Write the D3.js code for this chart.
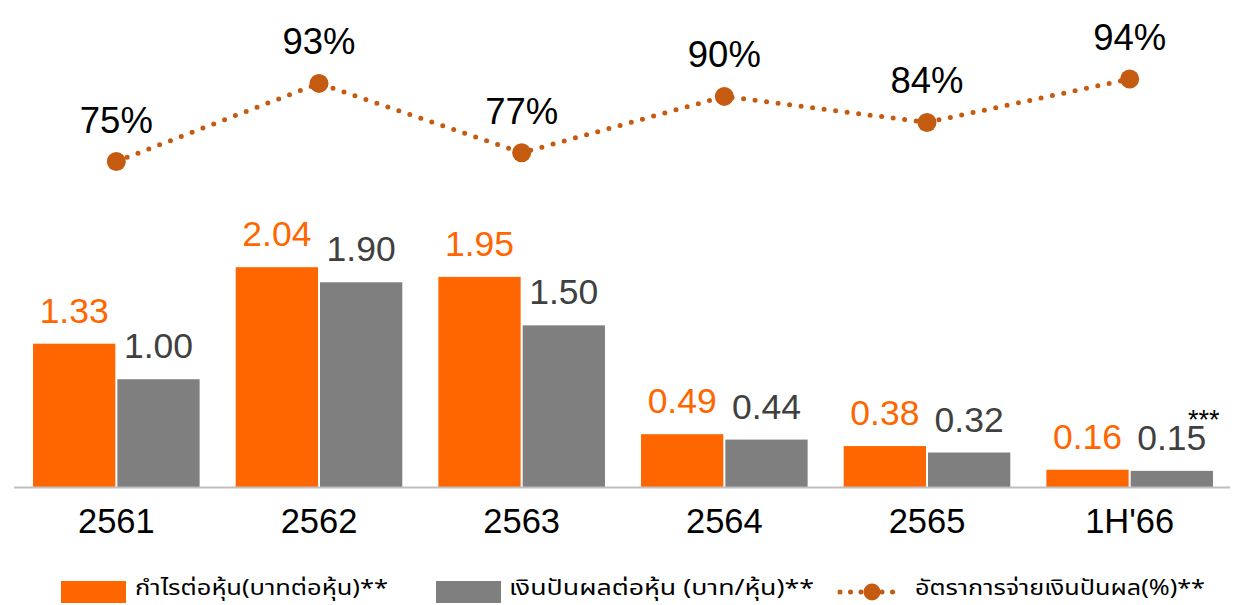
<!DOCTYPE html>
<html>
<head>
<meta charset="utf-8">
<script src="https://cdn.jsdelivr.net/npm/d3@7"></script>
<style>
  html, body { margin: 0; padding: 0; background: #fff; }
  svg { display: block; }
  text { font-family: Arial, "Liberation Sans", sans-serif; }
  .thai { font-family: "Noto Sans Thai", "Noto Sans Thai UI", "Leelawadee UI", Tahoma, "Noto Sans", sans-serif; }
</style>
</head>
<body>
<svg id="chart" width="1245" height="605"></svg>
<script>
const categories = ["2561", "2562", "2563", "2564", "2565", "1H'66"];
const epsValues = [1.33, 2.04, 1.95, 0.49, 0.38, 0.16];
const dpsValues = [1.00, 1.90, 1.50, 0.44, 0.32, 0.15];
const payoutValues = [75, 93, 77, 90, 84, 94];
const epsLabels = ["1.33", "2.04", "1.95", "0.49", "0.38", "0.16"];
const dpsLabels = ["1.00", "1.90", "1.50", "0.44", "0.32", "0.15"];
const seriesNames = ["กำไรต่อหุ้น(บาทต่อหุ้น)**", "เงินปันผลต่อหุ้น (บาท/หุ้น)**", "อัตราการจ่ายเงินปันผล(%)**"];

const orange = "#FF6600", gray = "#7F7F7F", lineColor = "#C55A11";

const svg = d3.select("#chart");

const x = d3.scaleBand().domain(categories).range([15, 1231]).paddingInner(0.178).paddingOuter(0.089);
const xSub = d3.scaleBand().domain(["eps", "dps"]).range([0, x.bandwidth()]).paddingInner(0.024);
const y = d3.scaleLinear().domain([0, 4]).range([487, 56]);
const yP = d3.scaleLinear().domain([0, 100]).range([487, 53]);

// bars
const groups = svg.append("g").selectAll("g").data(categories).join("g")
  .attr("transform", d => `translate(${x(d)},0)`);

groups.append("rect")
  .attr("x", xSub("eps")).attr("width", xSub.bandwidth())
  .attr("y", (d, i) => y(epsValues[i])).attr("height", (d, i) => y(0) - y(epsValues[i]))
  .attr("fill", orange);
groups.append("rect")
  .attr("x", xSub("dps")).attr("width", xSub.bandwidth())
  .attr("y", (d, i) => y(dpsValues[i])).attr("height", (d, i) => y(0) - y(dpsValues[i]))
  .attr("fill", gray);

groups.append("text")
  .attr("x", xSub("eps") + xSub.bandwidth() / 2)
  .attr("y", (d, i) => y(epsValues[i]) - 21)
  .attr("text-anchor", "middle").attr("font-size", 35.5).attr("fill", orange)
  .text((d, i) => epsLabels[i]);
groups.append("text")
  .attr("x", xSub("dps") + xSub.bandwidth() / 2)
  .attr("y", (d, i) => y(dpsValues[i]) - 21)
  .attr("text-anchor", "middle").attr("font-size", 35.5).attr("fill", "#404040")
  .text((d, i) => dpsLabels[i]);

// superscript *** on last category
svg.append("text")
  .attr("x", 1188)
  .attr("y", 429).attr("font-size", 27).attr("fill", "#000")
  .text("***");

// axis
const xAxis = d3.axisBottom(x).tickSize(0).tickPadding(0);
const ax = svg.append("g").attr("transform", `translate(0,${y(0)})`).call(xAxis);
ax.select(".domain").attr("stroke", "#BFBFBF").attr("stroke-width", 2).attr("d", "M14,0.5H1230");
ax.selectAll(".tick text").attr("font-size", 34.5).attr("fill", "#000")
  .attr("font-family", "Arial, 'Liberation Sans', sans-serif")
  .attr("dy", null).attr("y", 46);

// line
const cx = d => x(d) + x.bandwidth() / 2;
const line = d3.line().x((d, i) => cx(categories[i])).y(d => yP(d));
svg.append("path").datum(payoutValues)
  .attr("d", line).attr("fill", "none").attr("stroke", lineColor)
  .attr("stroke-width", 5).attr("stroke-linecap", "round").attr("stroke-dasharray", "0 11.6");
svg.append("g").selectAll("circle").data(payoutValues).join("circle")
  .attr("cx", (d, i) => cx(categories[i])).attr("cy", d => yP(d)).attr("r", 9.5)
  .attr("fill", lineColor);
svg.append("g").selectAll("text").data(payoutValues).join("text")
  .attr("x", (d, i) => cx(categories[i])).attr("y", d => yP(d) - 29)
  .attr("text-anchor", "middle").attr("font-size", 36.5).attr("fill", "#000")
  .text(d => d + "%");

// legend
const lg = svg.append("g");
lg.append("rect").attr("x", 61).attr("y", 581).attr("width", 65).attr("height", 22).attr("fill", orange);
lg.append("text").attr("class", "thai").attr("x", 135).attr("y", 595).attr("font-size", 22)
  .attr("textLength", 253).attr("lengthAdjust", "spacingAndGlyphs").attr("fill", "#000").text(seriesNames[0]);
lg.append("rect").attr("x", 436).attr("y", 581).attr("width", 65).attr("height", 22).attr("fill", gray);
lg.append("text").attr("class", "thai").attr("x", 509).attr("y", 595).attr("font-size", 22)
  .attr("textLength", 305).attr("lengthAdjust", "spacingAndGlyphs").attr("fill", "#000").text(seriesNames[1]);
lg.append("line").attr("x1", 840).attr("x2", 903).attr("y1", 592).attr("y2", 592)
  .attr("stroke", lineColor).attr("stroke-width", 5).attr("stroke-linecap", "round").attr("stroke-dasharray", "0 10.5");
lg.append("circle").attr("cx", 872).attr("cy", 592).attr("r", 8.5).attr("fill", lineColor);
lg.append("text").attr("class", "thai").attr("x", 915).attr("y", 595).attr("font-size", 22)
  .attr("textLength", 290).attr("lengthAdjust", "spacingAndGlyphs").attr("fill", "#000").text(seriesNames[2]);
</script>
</body>
</html>
